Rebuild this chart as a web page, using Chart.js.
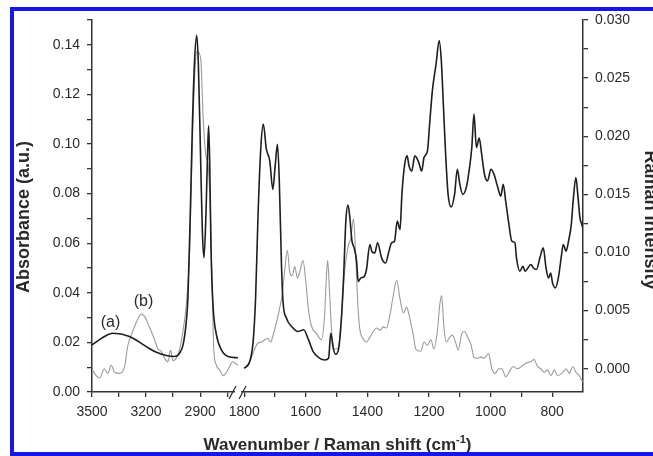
<!DOCTYPE html>
<html>
<head>
<meta charset="utf-8">
<script src="https://cdn.jsdelivr.net/npm/chart.js@4/dist/chart.umd.min.js"></script>
<style>
  html, body { margin: 0; padding: 0; background: #fff; overflow: hidden; }
  #frame { position: absolute; left: 10px; top: 7px; width: 700px; height: 441px; border: 4px solid #1616e8; background: #fff; }
  #chart { display: block; }
</style>
</head>
<body>
<div id="frame"><canvas id="chart" width="647" height="441"></canvas></div>
<script>
// IR (a), high wavenumber part, absorbance
const irHighWn = [3500, 3440, 3384, 3292, 3199, 3143, 3088, 3042, 3014, 2995, 2977, 2968, 2955, 2944, 2932, 2919, 2910, 2899, 2888, 2879, 2868, 2858, 2853, 2847, 2840, 2829, 2810, 2782, 2745, 2690];
const irHighAbs = [0.019, 0.022, 0.0237, 0.0224, 0.0183, 0.016, 0.0147, 0.0143, 0.0157, 0.019, 0.0284, 0.0379, 0.0716, 0.1053, 0.1323, 0.1438, 0.132, 0.0987, 0.0649, 0.0541, 0.0716, 0.0986, 0.1073, 0.0918, 0.058, 0.0352, 0.0231, 0.017, 0.0143, 0.0138];

// Raman (b), high wavenumber part
const ramanHighWn = [3500, 3486, 3458, 3431, 3412, 3393, 3375, 3347, 3319, 3301, 3282, 3254, 3227, 3208, 3190, 3171, 3153, 3134, 3116, 3097, 3079, 3064, 3051, 3023, 2999, 2977, 2958, 2944, 2930, 2918, 2897, 2884, 2869, 2856, 2843, 2832, 2825, 2810, 2792, 2773, 2754, 2736, 2721, 2708, 2690];
const ramanHighInt = [0.0000, -0.0004, -0.0008, 0.0000, -0.0004, 0.0003, -0.0003, -0.0004, 0.0002, 0.0020, 0.0029, 0.0040, 0.0047, 0.0045, 0.0039, 0.0032, 0.0025, 0.0017, 0.0015, 0.0009, 0.0006, 0.0016, 0.0007, 0.0012, 0.0029, 0.0055, 0.0103, 0.0190, 0.0253, 0.0273, 0.0267, 0.0218, 0.0184, 0.0175, 0.0132, 0.0060, 0.0018, 0.0003, -0.0001, -0.0006, -0.0003, 0.0002, 0.0006, 0.0005, 0.0003];

// IR (a), fingerprint part
const irLowWn = [1800, 1782, 1771, 1763, 1755, 1746, 1738, 1728, 1717, 1707, 1699, 1692, 1686, 1679, 1674, 1663, 1646, 1625, 1607, 1591, 1576, 1558, 1538, 1526, 1519, 1511, 1503, 1493, 1485, 1477, 1470, 1463, 1457, 1450, 1443, 1435, 1430, 1421, 1410, 1403, 1392, 1385, 1376, 1367, 1354, 1341, 1330, 1321, 1312, 1303, 1294, 1288, 1279, 1271, 1265, 1256, 1246, 1233, 1224, 1216, 1205, 1198, 1189, 1177, 1167, 1160, 1153, 1146, 1138, 1128, 1117, 1108, 1100, 1090, 1079, 1070, 1061, 1054, 1046, 1037, 1029, 1020, 1010, 999, 989, 978, 967, 959, 951, 942, 931, 921, 916, 905, 895, 888, 879, 869, 861, 851, 840, 829, 820, 812, 805, 799, 790, 780, 771, 764, 755, 747, 738, 732, 723, 717, 710, 704, 700];
const irLowAbs = [0.0096, 0.0123, 0.0204, 0.0379, 0.0716, 0.0986, 0.108, 0.0979, 0.0932, 0.0817, 0.0918, 0.0999, 0.0851, 0.0514, 0.0365, 0.0298, 0.0264, 0.0244, 0.0251, 0.021, 0.0163, 0.0139, 0.0129, 0.0136, 0.0237, 0.0177, 0.0152, 0.0177, 0.0284, 0.0473, 0.0689, 0.0754, 0.0703, 0.0608, 0.0581, 0.0527, 0.0446, 0.046, 0.0466, 0.0494, 0.0595, 0.0565, 0.0561, 0.0602, 0.0541, 0.052, 0.0568, 0.0602, 0.0608, 0.0689, 0.0655, 0.0797, 0.0918, 0.0952, 0.0912, 0.0891, 0.0952, 0.0925, 0.0891, 0.0946, 0.0972, 0.108, 0.1215, 0.1323, 0.1417, 0.1336, 0.1148, 0.0959, 0.0797, 0.0746, 0.0797, 0.0898, 0.0838, 0.0797, 0.0824, 0.0891, 0.0986, 0.1121, 0.0986, 0.1024, 0.0959, 0.0878, 0.0851, 0.0898, 0.0878, 0.0831, 0.079, 0.0838, 0.077, 0.0689, 0.0608, 0.0602, 0.0541, 0.0487, 0.0507, 0.0487, 0.05, 0.0514, 0.05, 0.0494, 0.0541, 0.0581, 0.05, 0.046, 0.048, 0.044, 0.042, 0.046, 0.0541, 0.0595, 0.0568, 0.0608, 0.0676, 0.077, 0.0865, 0.0797, 0.0703, 0.0676, 0.066];

// Raman (b), fingerprint part
const ramanLowWn = [1800, 1782, 1766, 1755, 1744, 1733, 1723, 1714, 1706, 1695, 1685, 1677, 1668, 1660, 1652, 1644, 1636, 1627, 1620, 1609, 1601, 1592, 1582, 1565, 1549, 1539, 1533, 1529, 1523, 1516, 1506, 1495, 1484, 1473, 1462, 1454, 1445, 1439, 1432, 1425, 1414, 1403, 1392, 1381, 1370, 1359, 1349, 1338, 1327, 1316, 1305, 1294, 1283, 1273, 1262, 1251, 1243, 1227, 1216, 1205, 1194, 1184, 1173, 1165, 1159, 1152, 1144, 1133, 1124, 1113, 1105, 1094, 1085, 1074, 1063, 1054, 1043, 1032, 1021, 1007, 996, 985, 974, 963, 951, 940, 927, 913, 895, 884, 870, 859, 848, 837, 826, 815, 804, 793, 783, 769, 755, 744, 733, 723, 712, 704, 700];
const ramanLowInt = [0.0000, 0.0006, 0.0017, 0.0022, 0.0023, 0.0025, 0.0026, 0.0023, 0.0029, 0.0040, 0.0052, 0.0063, 0.0086, 0.0102, 0.0083, 0.0080, 0.0088, 0.0078, 0.0083, 0.0093, 0.0078, 0.0052, 0.0037, 0.0030, 0.0025, 0.0046, 0.0080, 0.0093, 0.0066, 0.0032, 0.0017, 0.0018, 0.0046, 0.0086, 0.0106, 0.0112, 0.0129, 0.0103, 0.0060, 0.0035, 0.0026, 0.0023, 0.0027, 0.0032, 0.0035, 0.0033, 0.0036, 0.0035, 0.0046, 0.0063, 0.0076, 0.0060, 0.0048, 0.0053, 0.0043, 0.0029, 0.0017, 0.0015, 0.0023, 0.0020, 0.0025, 0.0017, 0.0032, 0.0055, 0.0063, 0.0037, 0.0023, 0.0027, 0.0029, 0.0022, 0.0016, 0.0030, 0.0032, 0.0027, 0.0020, 0.0010, 0.0009, 0.0010, 0.0009, 0.0013, 0.0000, -0.0004, 0.0000, 0.0000, -0.0007, -0.0003, 0.0002, 0.0000, 0.0003, 0.0005, 0.0006, 0.0008, 0.0002, 0.0000, -0.0003, -0.0001, -0.0006, -0.0001, -0.0006, -0.0004, 0.0000, -0.0004, 0.0002, -0.0003, -0.0006, -0.0010, -0.0011];

// axis ticks
const highWnTicks = [3500, 3350, 3200, 3050, 2900, 2750];
const highWnLabels = [3500, 3200, 2900];
const lowWnTicks = [1800, 1700, 1600, 1500, 1400, 1300, 1200, 1100, 1000, 900, 800];
const lowWnLabels = [1800, 1600, 1400, 1200, 1000, 800];
const absTicks = [0, 0.01, 0.02, 0.03, 0.04, 0.05, 0.06, 0.07, 0.08, 0.09, 0.10, 0.11, 0.12, 0.13, 0.14, 0.15];
const ramanTicks = [0, 0.0025, 0.005, 0.0075, 0.01, 0.0125, 0.015, 0.0175, 0.02, 0.0225, 0.025, 0.0275, 0.03];

const FONT = '"Liberation Sans", Arial, Helvetica, sans-serif';
const inkColor = '#2a2a2a';

function pts(xs, ys) {
  return xs.map((x, i) => ({ x: x, y: ys[i] }));
}

function axisStyle() {
  return {
    grid: { drawOnChartArea: false, drawTicks: true, tickLength: 5, color: '#333', lineWidth: 1.3 },
    border: { display: true, color: '#333', width: 1.5 }
  };
}

function tickFont() {
  return { family: FONT, size: 14 };
}

// fixed box sizes so the plot sits where the original one does
function fitY(s) {
  s.width = 78;
  s.paddingTop = 0;
  s.paddingBottom = 0;
}

function fitX(s) {
  s.height = 60;
  s.paddingLeft = 0;
  s.paddingRight = 0;
}

const decorations = {
  id: 'decorations',
  afterDraw(chart) {
    const ctx = chart.ctx;
    const area = chart.chartArea;
    const xHigh = chart.scales.xHigh;
    const yAbs = chart.scales.yAbs;
    ctx.save();

    // axis break
    const bx = xHigh.right;
    const by = area.bottom;
    ctx.fillStyle = '#fff';
    ctx.fillRect(bx - 3, by - 2, 6, 4);
    ctx.strokeStyle = '#333';
    ctx.lineWidth = 1.3;
    ctx.beginPath();
    ctx.moveTo(bx - 9, by + 7); ctx.lineTo(bx - 2, by - 6);
    ctx.moveTo(bx + 1, by + 7); ctx.lineTo(bx + 8, by - 6);
    ctx.stroke();

    // curve labels
    ctx.fillStyle = inkColor;
    ctx.font = '16px ' + FONT;
    ctx.textAlign = 'center';
    ctx.textBaseline = 'middle';
    ctx.fillText('(a)', xHigh.getPixelForValue(3397), yAbs.getPixelForValue(0.0281));
    ctx.fillText('(b)', xHigh.getPixelForValue(3214), yAbs.getPixelForValue(0.0366));

    // axis titles
    ctx.font = 'bold 18px ' + FONT;
    const midY = (area.top + area.bottom) / 2 + 11;
    ctx.save();
    ctx.translate(area.left - 68, midY);
    ctx.rotate(-Math.PI / 2);
    ctx.fillText('Absorbance (a.u.)', 0, 0);
    ctx.restore();

    ctx.save();
    ctx.translate(area.right + 66.5, midY + 3);
    ctx.rotate(Math.PI / 2);
    ctx.fillText('Raman Intensity', 0, 0);
    ctx.restore();

    const main = 'Wavenumber / Raman shift (cm';
    const sup = '-1';
    const tail = ')';
    ctx.font = 'bold 17px ' + FONT;
    const wMain = ctx.measureText(main).width;
    const wTail = ctx.measureText(tail).width;
    ctx.font = 'bold 11px ' + FONT;
    const wSup = ctx.measureText(sup).width;
    let x = (area.left + area.right) / 2 - (wMain + wSup + wTail) / 2;
    const base = area.bottom + 58;
    ctx.textAlign = 'left';
    ctx.textBaseline = 'alphabetic';
    ctx.font = 'bold 17px ' + FONT;
    ctx.fillText(main, x, base);
    x += wMain;
    ctx.font = 'bold 11px ' + FONT;
    ctx.fillText(sup, x, base - 7);
    x += wSup;
    ctx.font = 'bold 17px ' + FONT;
    ctx.fillText(tail, x, base);

    ctx.restore();
  }
};

new Chart(document.getElementById('chart'), {
  type: 'line',
  data: {
    datasets: [
      { data: pts(irHighWn, irHighAbs), xAxisID: 'xHigh', yAxisID: 'yAbs', borderColor: '#1e1e1e', borderWidth: 1.6 },
      { data: pts(irLowWn, irLowAbs), xAxisID: 'xLow', yAxisID: 'yAbs', borderColor: '#1e1e1e', borderWidth: 1.6 },
      { data: pts(ramanHighWn, ramanHighInt), xAxisID: 'xHigh', yAxisID: 'yRam', borderColor: '#9a9a9a', borderWidth: 1.1 },
      { data: pts(ramanLowWn, ramanLowInt), xAxisID: 'xLow', yAxisID: 'yRam', borderColor: '#9a9a9a', borderWidth: 1.1 }
    ]
  },
  options: {
    responsive: false,
    animation: false,
    devicePixelRatio: 1,
    layout: { padding: { top: 9, left: 0, right: 0, bottom: 0 } },
    elements: {
      point: { radius: 0 },
      line: { cubicInterpolationMode: 'monotone', fill: false }
    },
    plugins: {
      legend: { display: false },
      tooltip: { enabled: false }
    },
    scales: {
      xHigh: Object.assign({
        type: 'linear', axis: 'x', position: 'bottom', stack: 'wn', stackWeight: 145.8,
        min: 2690, max: 3500, reverse: true,
        afterBuildTicks: s => { s.ticks = highWnTicks.map(v => ({ value: v })); },
        afterFit: fitX,
        ticks: {
          autoSkip: false, maxRotation: 0, padding: 7, color: inkColor, font: tickFont(),
          callback: v => highWnLabels.includes(v) ? String(v) : ''
        }
      }, axisStyle()),
      xLow: Object.assign({
        type: 'linear', axis: 'x', position: 'bottom', stack: 'wn', stackWeight: 344.4,
        min: 700, max: 1820, reverse: true,
        afterBuildTicks: s => { s.ticks = lowWnTicks.map(v => ({ value: v })); },
        afterFit: fitX,
        ticks: {
          autoSkip: false, maxRotation: 0, padding: 7, color: inkColor, font: tickFont(),
          callback: v => lowWnLabels.includes(v) ? String(v) : ''
        }
      }, axisStyle()),
      yAbs: Object.assign({
        type: 'linear', axis: 'y', position: 'left', min: 0, max: 0.15,
        afterBuildTicks: s => { s.ticks = absTicks.map(v => ({ value: v })); },
        afterFit: fitY,
        ticks: {
          autoSkip: false, padding: 7, color: inkColor, font: tickFont(),
          callback: v => Math.round(v * 100) % 2 === 0 ? v.toFixed(2) : ''
        }
      }, axisStyle()),
      yRam: Object.assign({
        type: 'linear', axis: 'y', position: 'right', min: -0.002, max: 0.03,
        afterBuildTicks: s => { s.ticks = ramanTicks.map(v => ({ value: v })); },
        afterFit: fitY,
        ticks: {
          autoSkip: false, padding: 7, color: inkColor, font: tickFont(),
          callback: v => Math.round(v * 10000) % 50 === 0 ? v.toFixed(3) : ''
        }
      }, axisStyle())
    }
  },
  plugins: [decorations]
});
</script>
</body>
</html>
